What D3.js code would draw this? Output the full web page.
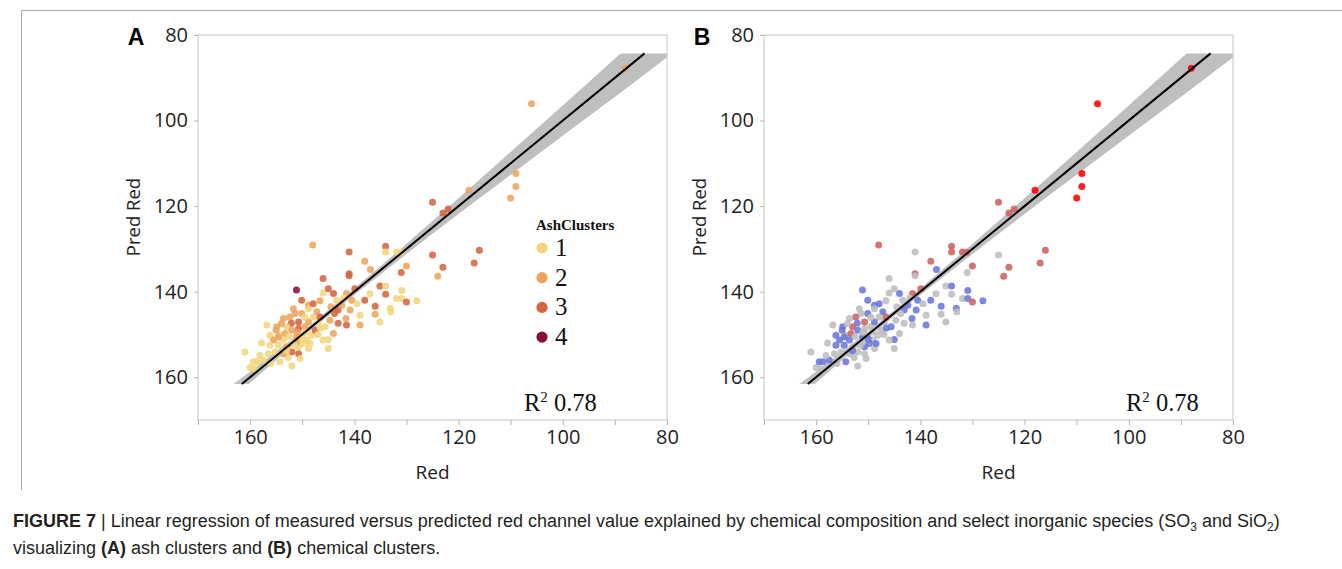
<!DOCTYPE html>
<html>
<head>
<meta charset="utf-8">
<script src="https://cdn.jsdelivr.net/npm/d3@7"></script>
<style>
  body { margin: 0; background: #fff; }
  .tick text { font-family: 'Open Sans', sans-serif; }
</style>
</head>
<body>
<svg width="1342" height="569"></svg>
<script>
// measured Red (x) vs predicted Red (y), one entry per sample
const redVals = [
  151.1,150.1,146.0,145.0,144.0,141.5,139.9,138.0,135.1,134.0,134.0,130.9,131.9,130.9,130.0,128.0,
  136.0,133.1,133.0,135.1,136.0,138.9,138.9,141.5,141.6,143.1,144.0,145.0,145.0,148.8,147.9,146.6,
  143.1,143.8,147.2,148.8,150.1,151.4,152.4,152.1,153.6,154.9,156.8,156.2,155.5,154.6,154.3,153.3,
  153.0,152.0,150.7,150.1,149.1,148.2,149.5,148.8,146.9,147.5,148.8,150.7,152.0,150.7,152.7,154.3,
  152.0,156.5,157.5,158.7,159.1,161.0,146.0,149.8,148.5,149.1,151.1,153.6,154.6,153.0,156.2,155.2,
  158.1,153.6,151.1,144.7,145.6,142.4,140.5,139.5,143.4,140.8,150.7,151.7,147.9,146.6,150.4,160.0,
  159.4,152.5,151.5,150.0,155.0,154.0,151.0,149.5,147.0,146.5,144.5,142.0,137.0,157.8,156.0,153.0,
  125.0,123.0,122.0,134.0,134.0,131.9,131.1,125.0,116.0,130.0,123.0,117.0,131.0,124.0,148.0,141.0,
  138.0,136.9,146.0,141.0,141.0,
  106.0,109.0,109.0,110.0,118.0,88.0
];
const predVals = [
  139.6,142.0,140.3,139.3,140.4,140.4,139.3,142.0,138.7,138.7,140.6,139.7,141.6,141.6,142.4,142.1,
  143.4,143.9,144.7,147.1,145.3,145.5,147.8,147.8,146.3,147.4,149.8,151.2,153.3,143.2,142.8,142.1,
  144.3,145.1,144.7,144.0,145.1,145.1,145.9,147.4,146.3,148.2,147.8,150.2,151.3,152.5,150.2,149.8,
  148.2,149.0,148.6,150.2,151.3,150.2,148.2,147.1,147.1,149.0,153.3,152.9,154.1,154.5,155.4,156.4,
  157.4,154.5,156.0,156.4,158.0,154.1,151.3,152.1,152.1,149.4,150.6,151.3,150.6,152.9,152.5,154.1,
  154.9,154.5,151.7,146.7,148.2,143.2,142.0,142.8,142.0,144.3,147.1,144.0,145.9,145.9,155.6,157.7,
  156.4,150.5,152.5,151.0,149.0,147.5,149.5,146.0,150.0,148.5,143.5,141.5,140.5,152.0,156.8,153.8,
  119.1,121.6,120.7,129.4,130.7,130.7,130.8,131.4,130.3,134.0,134.3,133.3,135.5,136.4,129.1,130.7,
  132.9,134.8,136.9,135.8,136.3,
  96.1,112.4,115.4,118.1,116.3,87.8
];
const ashCluster = [
  4,3,1,3,3,2,3,3,3,1,3,1,1,1,3,1,
  3,1,1,1,2,1,2,3,2,3,2,1,1,2,3,2,
  3,3,2,1,2,2,2,3,2,2,1,1,2,1,1,2,
  1,2,3,1,1,1,2,2,1,3,1,1,3,3,1,1,
  1,1,1,1,1,1,1,1,1,1,2,1,2,2,1,1,
  1,2,2,2,1,2,2,1,1,2,3,2,1,3,1,1,
  1,1,1,1,2,2,2,1,1,1,2,1,1,1,1,1,
  3,3,3,3,1,1,1,3,3,2,3,3,3,2,2,3,
  2,2,3,3,3,
  2,2,2,2,2,2
];
// G = grey, B = blue, I = indian red, R = red
const chemCluster = [
  'B','B','G','G','B','I','I','B','G','B','G','B','G','B','I','B',
  'B','B','G','G','G','G','B','G','B','G','G','B','G','B','B','G',
  'B','G','B','G','B','G','I','B','G','B','G','B','B','B','G','I',
  'I','B','G','G','G','G','G','B','G','G','G','B','G','G','G','B',
  'G','G','B','B','G','G','G','B','B','G','B','B','B','G','B','G',
  'G','G','G','G','B','B','B','G','G','B','I','G','G','I','G','G',
  'B','G','G','B','B','G','G','G','G','B','G','G','G','G','G','B',
  'I','I','I','I','I','I','I','G','I','I','I','I','G','I','I','G',
  'I','B','G','I','G',
  'R','R','R','R','R','R'
];

const xTicks = [170, 160, 150, 140, 130, 120, 110, 100, 90, 80];
const xLabelled = [160, 140, 120, 100, 80];
const yTicks = [80, 100, 120, 140, 160];

// fit line (Pred = Red) and its shaded confidence band
const fitRed = [161.6, 84.3];
const fitPred = [161.6, 84.3];
const bandRed = [165, 163, 155, 148, 140, 130, 118, 105, 93, 85, 78];
const bandHalf = [1.8, 1.6, 1.0, 0.7, 0.8, 1.2, 2.0, 3.1, 4.2, 4.9, 5.3];
const bandPredRange = [84.3, 161.6];

const ashLabels = [1, 2, 3, 4];
const rSquared = '0.78';

const ashColor = d3.scaleOrdinal().domain([1, 2, 3, 4])
  .range(['#f2d57c', '#eca45b', '#d4643f', '#8b0d35']);
const chemColor = d3.scaleOrdinal().domain(['G', 'B', 'I', 'R'])
  .range(['#bdbdbd', '#6a78dc', '#cd6262', '#ff0000']);

const points = redVals.map((r, i) => ({
  red: r, pred: predVals[i], ash: ashCluster[i], chem: chemCluster[i]
}));

const svg = d3.select('svg');
svg.append('rect').attr('width', 1342).attr('height', 569).attr('fill', '#fff');

// thin border of the figure
svg.append('path')
  .attr('d', 'M21.5,490 V10.5 H1342')
  .attr('fill', 'none').attr('stroke', '#a8a8a8').attr('stroke-width', 1);

const W = 469, H = 385, plotTop = 35;

const x = d3.scaleLinear().domain([170, 80]).range([0, W]);
const y = d3.scaleLinear().domain([80, 170]).range([0, H]);

const drawPanel = (left, letter, colorOf, rLeft, id) => {
  const g = svg.append('g').attr('transform', `translate(${left},${plotTop})`);

  g.append('clipPath').attr('id', 'clip' + id)
    .append('rect')
    .attr('x', 0).attr('width', W)
    .attr('y', y(bandPredRange[0]))
    .attr('height', y(bandPredRange[1]) - y(bandPredRange[0]));

  // confidence band
  const band = d3.area()
    .x(d => x(d))
    .y0((d, i) => y(d - bandHalf[i]))
    .y1((d, i) => y(d + bandHalf[i]))
    .curve(d3.curveMonotoneX);
  g.append('path')
    .datum(bandRed)
    .attr('d', band)
    .attr('fill', '#bfbfbf')
    .attr('clip-path', `url(#clip${id})`);

  // points
  g.selectAll('circle.pt')
    .data(points).enter()
    .append('circle')
      .attr('class', 'pt')
      .attr('cx', d => x(d.red))
      .attr('cy', d => y(d.pred))
      .attr('r', 3.5)
      .attr('fill', colorOf)
      .attr('fill-opacity', 0.88);

  // fit line
  g.append('line')
    .attr('x1', x(fitRed[0])).attr('y1', y(fitPred[0]))
    .attr('x2', x(fitRed[1])).attr('y2', y(fitPred[1]))
    .attr('stroke', '#000').attr('stroke-width', 2);

  // frame
  g.append('rect')
    .attr('width', W).attr('height', H)
    .attr('fill', 'none').attr('stroke', '#c4c4c4');

  const xAxis = d3.axisBottom(x)
    .tickValues(xTicks)
    .tickSize(5)
    .tickPadding(5)
    .tickFormat(d => xLabelled.includes(d) ? d : '');
  const xg = g.append('g').attr('transform', `translate(0,${H})`).call(xAxis);
  xg.select('.domain').remove();
  xg.selectAll('.tick line').attr('stroke', '#b5b5b5');
  xg.selectAll('.tick text').attr('font-size', 20).attr('fill', '#222');

  const yAxis = d3.axisLeft(y).tickValues(yTicks).tickSize(4).tickPadding(6);
  const yg = g.append('g').call(yAxis);
  yg.select('.domain').remove();
  yg.selectAll('.tick line').attr('stroke', '#b5b5b5');
  yg.selectAll('.tick text').attr('font-size', 20).attr('fill', '#222');

  // axis titles
  g.append('text')
    .attr('x', W / 2).attr('y', H + 59)
    .attr('text-anchor', 'middle')
    .attr('font-family', "'Open Sans', sans-serif")
    .attr('font-size', 19).attr('fill', '#222')
    .text('Red');
  g.append('text')
    .attr('transform', `translate(-58,${182}) rotate(-90)`)
    .attr('text-anchor', 'middle')
    .attr('font-family', "'Open Sans', sans-serif")
    .attr('font-size', 18.5).attr('fill', '#222')
    .text('Pred Red');

  // panel letter
  g.append('text')
    .attr('x', -62).attr('y', 10)
    .attr('text-anchor', 'middle')
    .attr('font-family', "'Liberation Sans', Arial, sans-serif")
    .attr('font-weight', 'bold')
    .attr('font-size', 23).attr('fill', '#000')
    .text(letter);

  // R squared
  const rt = g.append('text')
    .attr('x', rLeft).attr('y', 376)
    .attr('font-family', "'Liberation Serif', 'Times New Roman', serif")
    .attr('font-size', 24.5).attr('fill', '#111');
  rt.append('tspan').text('R');
  rt.append('tspan').attr('dy', -9).attr('font-size', 15).text('2');
  rt.append('tspan').attr('dy', 9).text('\u00a0' + rSquared);

  return g;
};

const gA = drawPanel(198, 'A', d => ashColor(d.ash), 326, 'A');
drawPanel(764, 'B', d => chemColor(d.chem), 362, 'B');

// legend for ash clusters (panel A)
const lg = gA.append('g').attr('transform', 'translate(344,0)');
lg.append('text')
  .attr('x', -6).attr('y', 195)
  .attr('font-family', "'Liberation Serif', 'Times New Roman', serif")
  .attr('font-weight', 'bold').attr('font-size', 15).attr('fill', '#111')
  .text('AshClusters');
const item = lg.selectAll('g.item')
  .data(ashLabels).enter()
  .append('g').attr('class', 'item')
  .attr('transform', (d, i) => `translate(0,${213 + i * 29.7})`);
item.append('circle').attr('r', 5.6).attr('fill', d => ashColor(d));
item.append('text')
  .attr('x', 13).attr('y', 8)
  .attr('font-family', "'Liberation Serif', 'Times New Roman', serif")
  .attr('font-size', 25).attr('fill', '#111')
  .text(d => d);

// caption
const cap = svg.append('g')
  .attr('font-family', "'Liberation Sans', Arial, sans-serif")
  .attr('font-size', 18).attr('fill', '#231f20');
const l1 = cap.append('text').attr('x', 13).attr('y', 527);
l1.append('tspan').attr('font-weight', 'bold').text('FIGURE 7');
l1.append('tspan').text(' | Linear regression of measured versus predicted red channel value explained by chemical composition and select inorganic species (SO');
l1.append('tspan').attr('font-size', 12).attr('dy', 4).text('3');
l1.append('tspan').attr('dy', -4).text(' and SiO');
l1.append('tspan').attr('font-size', 12).attr('dy', 4).text('2');
l1.append('tspan').attr('dy', -4).text(')');
const l2 = cap.append('text').attr('x', 13).attr('y', 554);
l2.append('tspan').text('visualizing ');
l2.append('tspan').attr('font-weight', 'bold').text('(A)');
l2.append('tspan').text(' ash clusters and ');
l2.append('tspan').attr('font-weight', 'bold').text('(B)');
l2.append('tspan').text(' chemical clusters.');
</script>
</body>
</html>
